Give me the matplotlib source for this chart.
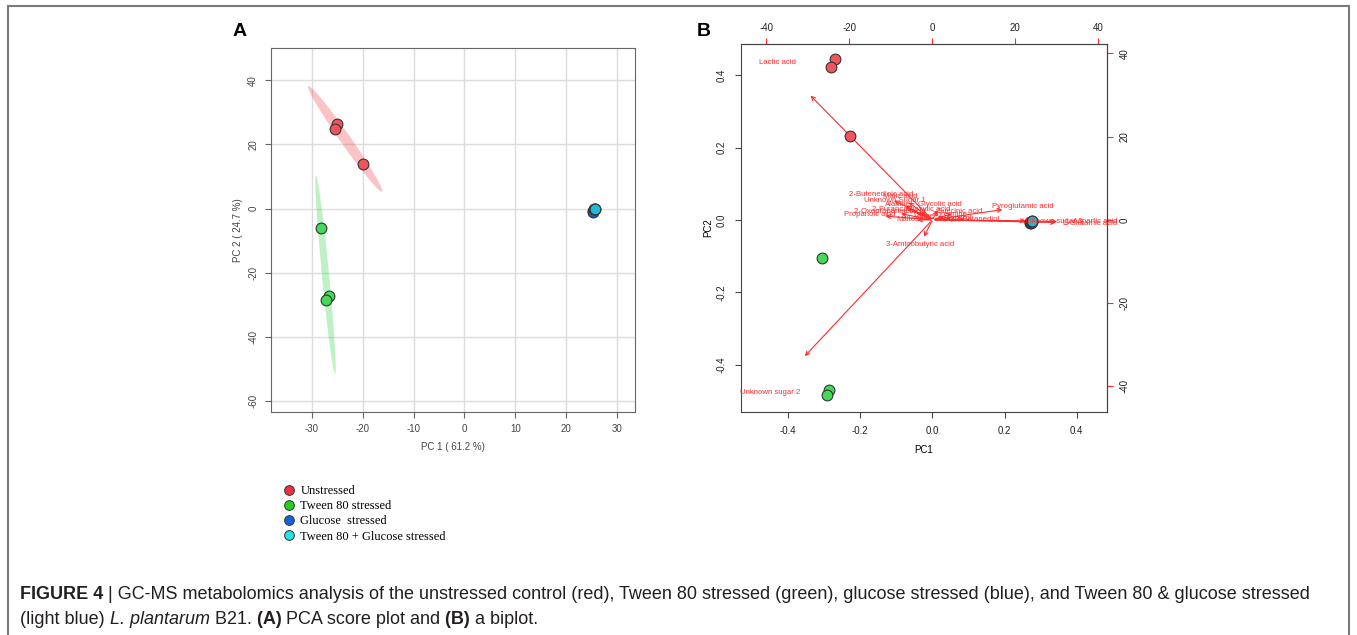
import numpy as np
import matplotlib
matplotlib.use('Agg')
import matplotlib.pyplot as plt
from matplotlib.lines import Line2D
from matplotlib.patches import Rectangle

plt.rcParams['font.family'] = ['Liberation Sans', 'DejaVu Sans']
plt.rcParams['axes.unicode_minus'] = False

groups = ['Unstressed', 'Tween 80 stressed', 'Glucose  stressed', 'Tween 80 + Glucose stressed']
legend_colors = ['#e8343f', '#21d021', '#1563d6', '#25e3e3']
point_colors = ['#f2545e', '#45d957', '#1d5fb8', '#1fbad6']

# panel A: PCA scores
a_pc1 = [[-24.95, -25.35, -20.0], [-28.2, -26.6, -27.1], [25.2, 25.4, 25.3], [25.6, 25.5, 25.7]]
a_pc2 = [[26.3, 24.9, 14.0], [-6.0, -27.3, -28.5], [-0.9, -0.6, -1.0], [0.0, -0.3, -0.1]]

# panel B: biplot scores
b_pc1 = [[-0.271, -0.282, -0.229], [-0.307, -0.286, -0.293], [0.272, 0.270, 0.274], [0.276, 0.275, 0.277]]
b_pc2 = [[0.444, 0.422, 0.232], [-0.104, -0.470, -0.485], [-0.008, -0.006, -0.009], [-0.004, -0.005, -0.003]]

# loadings (top / right axis units)
var_names = ['Lactic acid', 'Unknown sugar 2', '3-Aminobutyric acid', 'Pyroglutamic acid',
             'Unknown sugar 3', 'L-Glutamic acid', 'L-Aspartic acid', '2-Butenedioic acid',
             'Unknown Sugar 1', 'Malic acid', 'Alanine', 'Glycolic acid',
             '2-Furancarboxylic acid', 'Succinic acid', '2-Oxopropanoic acid', 'Propanoic acid',
             'Maltose', '2,3-Butanediol', 'Threonine', 'Glycerol', 'Valine']
load_pc1 = [-37.3, -39.0, -2.9, 21.9, 28.9, 38.0, 38.4, -12.3, -9.0, -7.8, -8.3, 1.8,
            -5.0, 6.6, -10.3, -15.0, -5.4, 10.3, 4.3, 6.1, -2.0]
load_pc2 = [37.9, -41.5, -5.8, 3.2, -0.3, -0.8, -0.5, 6.2, 4.6, 5.7, 3.6, 3.6,
            2.6, 2.1, 2.0, 1.2, 0.0, 0.3, 1.2, 0.4, 0.9]
K = 86.9  # loading axis / score axis


def conf_ellipse(x, y, n=120):
    x = np.asarray(x); y = np.asarray(y)
    vals, vecs = np.linalg.eigh(np.cov(x, y))
    t = np.linspace(0, 2 * np.pi, n)
    circ = np.vstack([np.cos(t), np.sin(t)])
    pts = vecs @ (np.sqrt(np.maximum(vals, 0))[:, None] * circ) * np.sqrt(5.991)
    return x.mean() + pts[0], y.mean() + pts[1]


fig = plt.figure(figsize=(13.57, 6.35), dpi=100)

# ---- panel A
axA = fig.add_axes([0.1995, 0.3517, 0.2685, 0.5732])
axA.set_xlim(-38.05, 33.5)
axA.set_ylim(-63.4, 50.2)
axA.set_xticks([-30, -20, -10, 0, 10, 20, 30])
axA.set_yticks([-60, -40, -20, 0, 20, 40])
axA.grid(True, color='#dcdcdc', lw=1)
axA.set_axisbelow(True)
for i in range(4):
    ex, ey = conf_ellipse(a_pc1[i], a_pc2[i])
    axA.fill(ex, ey, color=point_colors[i], alpha=0.35, lw=0, zorder=2)
for i in range(4):
    axA.scatter(a_pc1[i], a_pc2[i], s=60, c=point_colors[i], edgecolors='#333333', lw=0.8, zorder=3)
for s in axA.spines.values():
    s.set_color('#666666')
axA.tick_params(colors='#666666', labelcolor='#444444', labelsize=7, length=4, pad=5)
axA.tick_params(axis='y', labelrotation=90)
for lab in axA.get_yticklabels():
    lab.set_va('center')
axA.text(0.5, -0.097, 'PC 1 ( 61.2 %)', transform=axA.transAxes, ha='center', va='center',
         fontsize=7, color='#444444')
axA.text(-0.09, 0.5, 'PC 2 ( 24.7 %)', transform=axA.transAxes, ha='center', va='center',
         rotation=90, fontsize=7, color='#444444')

# ---- panel B
axB = fig.add_axes([0.546, 0.3517, 0.270, 0.579])
axB.set_xlim(-0.531, 0.485)
axB.set_ylim(-0.53, 0.486)
ticksB = [-0.4, -0.2, 0.0, 0.2, 0.4]
axB.set_xticks(ticksB)
axB.set_yticks(ticksB)
axB.set_xticklabels(['-0.4', '-0.2', '0.0', '0.2', '0.4'])
axB.set_yticklabels(['-0.4', '-0.2', '0.0', '0.2', '0.4'])
axB.tick_params(colors='#444444', labelcolor='#222222', labelsize=7, length=4, pad=6)
axB.tick_params(axis='y', labelrotation=90)
for lab in axB.get_yticklabels():
    lab.set_va('center')
for s in axB.spines.values():
    s.set_color('#444444')
axB.set_xlabel('PC1', fontsize=7, labelpad=7)
axB.set_ylabel('PC2', fontsize=7, labelpad=3)

for i in range(4):
    axB.scatter(b_pc1[i], b_pc2[i], s=60, c=point_colors[i], edgecolors='#333333', lw=0.8, zorder=3)

red = '#ff2b2b'
for name, lx, ly in zip(var_names, load_pc1, load_pc2):
    axB.annotate('', xy=(0.8 * lx / K, 0.8 * ly / K), xytext=(0, 0),
                 arrowprops=dict(arrowstyle='->', color=red, lw=0.8, mutation_scale=7), zorder=2)
for name, lx, ly in zip(var_names, load_pc1, load_pc2):
    axB.text(lx / K, ly / K, name, color=red, fontsize=5.6, ha='center', va='center', zorder=4)

top = axB.secondary_xaxis('top', functions=(lambda v: v * K, lambda v: v / K))
right = axB.secondary_yaxis('right', functions=(lambda v: v * K, lambda v: v / K))
top.set_xticks([-40, -20, 0, 20, 40])
right.set_yticks([-40, -20, 0, 20, 40])
top.tick_params(color=red, labelcolor='#222222', labelsize=7, length=4, pad=4)
right.tick_params(color=red, labelcolor='#222222', labelsize=7, length=4, pad=5, labelrotation=90)
for lab in right.get_yticklabels():
    lab.set_va('center')
top.spines['top'].set_color('#444444')
right.spines['right'].set_color('#8b2e2e')

# panel letters
fig.text(240 / 1357, 1 - 32 / 635, 'A', fontsize=14, fontweight='bold', ha='center', va='center')
fig.text(704 / 1357, 1 - 32 / 635, 'B', fontsize=14, fontweight='bold', ha='center', va='center')

# legend
handles = [Line2D([], [], marker='o', ls='', markersize=7, markerfacecolor=c, markeredgecolor='#333333',
                  markeredgewidth=0.7) for c in legend_colors]
fig.legend(handles, groups, loc='upper left', bbox_to_anchor=(276 / 1357, 1 - 479 / 635), frameon=False,
           prop={'family': 'Liberation Serif', 'size': 9}, handletextpad=0.45, labelspacing=0.25,
           borderpad=0, handlelength=1.0)

# frame
fig.add_artist(Rectangle((8 / 1357, -0.05), (1349 - 8) / 1357, 1.05 - 6 / 635, transform=fig.transFigure,
                         fill=False, ec='#7a7a7a', lw=1.5))

# caption
cap = fig.add_axes([0, 0, 1, 1])
cap.axis('off')
cap.set_zorder(-1)
cap_size = 12.95
ink = '#231f20'


def chain(parts, x, y):
    prev = None
    for txt, style in parts:
        kw = dict(fontsize=cap_size, color=ink, va='bottom', ha='left')
        if style == 'b':
            kw['fontweight'] = 'bold'
        elif style == 'i':
            kw['fontstyle'] = 'italic'
        if prev is None:
            prev = cap.text(x, y, txt, transform=fig.transFigure, **kw)
        else:
            prev = cap.annotate(txt, xy=(1, 0), xycoords=prev, **kw)


chain([('FIGURE 4', 'b'),
       (' | GC-MS metabolomics analysis of the unstressed control (red), Tween 80 stressed (green), '
        'glucose stressed (blue), and Tween 80 & glucose stressed', 'n')], 20 / 1357, 1 - 603 / 635)
chain([('(light blue)', 'n'), (' L. plantarum', 'i'), (' B21.', 'n'), (' (A)', 'b'),
       (' PCA score plot and', 'n'), (' (B)', 'b'), (' a biplot.', 'n')], 20 / 1357, 1 - 628 / 635)

fig.savefig('out.png', dpi=100)
